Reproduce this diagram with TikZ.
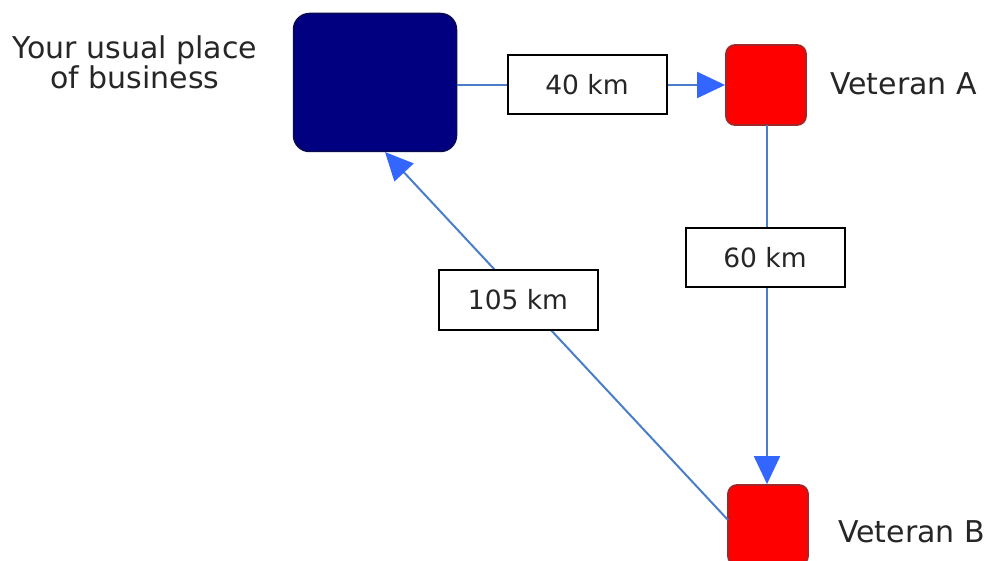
\documentclass[tikz,border=0pt]{standalone}
\usepackage{fontspec}
\setmainfont{DejaVu Sans}
\usetikzlibrary{arrows.meta}
\definecolor{navybox}{HTML}{000080}
\definecolor{navyedge}{HTML}{0A0A50}
\definecolor{redbox}{HTML}{FF0000}
\definecolor{rededge}{HTML}{A02828}
\definecolor{lineblue}{HTML}{4A7EC8}
\definecolor{tipblue}{HTML}{3366FF}
\tikzset{
  homebox/.style={draw=navyedge, line width=1.5pt, fill=navybox, rounded corners=16pt, minimum width=163pt, minimum height=138pt, inner sep=0pt},
  vetbox/.style={draw=rededge, line width=1.8pt, fill=redbox, rounded corners=9pt, minimum width=80pt, minimum height=80pt, inner sep=0pt},
  distlabel/.style={draw=black, line width=2pt, fill=white, minimum width=159pt, minimum height=59pt, inner sep=0pt, font=\fontsize{26.5}{30}\selectfont, text=black!85},
  nametext/.style={font=\fontsize{30}{28}\selectfont, text=black!85, align=center, inner sep=0pt},
  link/.style={draw=lineblue, line width=2pt, -{Triangle[length=28pt,width=26pt,color=tipblue]}},
}
\begin{document}
\begin{tikzpicture}[x=1pt,y=-1pt]
\useasboundingbox (0,0) rectangle (993,561);
\clip (0,0) rectangle (993,561);
\node[homebox] (home) at (375,82.5) {};
\node[vetbox] (va) at (766,85) {};
\node[vetbox] (vb) at (768,525) {};
\node[nametext] (hometext) at (135,62) {Your usual place\\of business};
\node[nametext, anchor=west] (vatext) at (830,84) {Veteran A};
\node[nametext, anchor=west] (vbtext) at (838,532) {Veteran B};
\coordinate (hb) at (385,152);
\coordinate (vbl) at (728,520);
\coordinate (vat) at (767,125);
\path[link] (home.east |- va.west) -- (va.west);
\path[link] (vat) -- (vat |- vb.north);
\path[link] (vbl) -- (hb);
\node[distlabel] (l40) at (587,85) {40 km};
\node[distlabel] (l60) at (765,258) {60 km};
\node[distlabel] (l105) at (518,300) {105 km};
\end{tikzpicture}
\end{document}
